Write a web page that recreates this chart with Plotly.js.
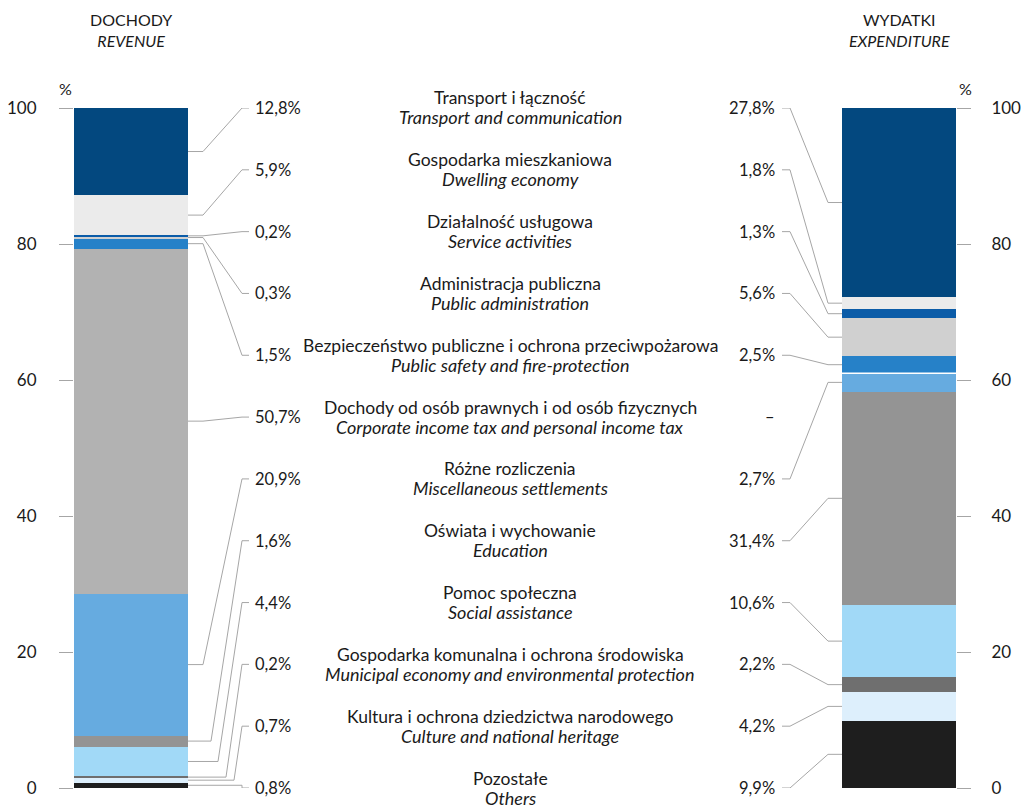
<!DOCTYPE html>
<html>
<head>
<meta charset="utf-8">
<script src="https://cdn.plot.ly/plotly-3.0.1.min.js"></script>
<style>html,body{margin:0;padding:0;background:#fff;}#chart{width:1025px;height:806px;}</style>
</head>
<body>
<div id="chart"></div>
<script>
// ---- DATA ----
const categoriesPl = [
  'Transport i łączność',
  'Gospodarka mieszkaniowa',
  'Działalność usługowa',
  'Administracja publiczna',
  'Bezpieczeństwo publiczne i ochrona przeciwpożarowa',
  'Dochody od osób prawnych i od osób fizycznych',
  'Różne rozliczenia',
  'Oświata i wychowanie',
  'Pomoc społeczna',
  'Gospodarka komunalna i ochrona środowiska',
  'Kultura i ochrona dziedzictwa narodowego',
  'Pozostałe'
];
const categoriesEn = [
  'Transport and communication',
  'Dwelling economy',
  'Service activities',
  'Public administration',
  'Public safety and fire-protection',
  'Corporate income tax and personal income tax',
  'Miscellaneous settlements',
  'Education',
  'Social assistance',
  'Municipal economy and environmental protection',
  'Culture and national heritage',
  'Others'
];
const revenue     = [12.8, 5.9, 0.2, 0.3, 1.5, 50.7, 20.9, 1.6, 4.4, 0.2, 0.7, 0.8];
const expenditure = [27.8, 1.8, 1.3, 5.6, 2.5, 0.0, 2.7, 31.4, 10.6, 2.2, 4.2, 9.9];
const yTicks = [0, 20, 40, 60, 80, 100];

// ---- STYLE ----
const colors = ['#03487F','#EBEBEB','#0B5CA8','#D0D0D0','#2681C8','#B2B2B2',
                '#66ABE0','#949494','#A1D9F7','#6F6F6F','#DDEFFC','#1E1E1E'];
const W = 1025, H = 806;
const FONT = 'Lato, "Open Sans", sans-serif';
const TXT = '#1a1a1a';
const LINE = '#A6A6A6';
const px = v => v / W;
const leftBar = [74, 188], rightBar = [842, 956];
const plotTop = 108, plotBottom = 788;
const leftElbow = [203,203,203,203,203,203,203,211,218,226,234,242];
const midX = 510;

const fmt = v => v === 0 ? '–' : v.toFixed(1).replace('.', ',') + '%';

const n = categoriesPl.length;
const traces = [];
for (let i = n - 1; i >= 0; i--) {
  traces.push({type:'bar', x:[0], y:[revenue[i]], width:[1], xaxis:'x', yaxis:'y',
    marker:{color:colors[i], line:{width:0}}, hoverinfo:'skip', showlegend:false});
  traces.push({type:'bar', x:[0], y:[expenditure[i]], width:[1], xaxis:'x2', yaxis:'y2',
    marker:{color:colors[i], line:{width:0}}, hoverinfo:'skip', showlegend:false});
}

function bases(vals) {
  const b = new Array(vals.length); let acc = 0;
  for (let i = vals.length - 1; i >= 0; i--) { b[i] = acc; acc += vals[i]; }
  return b;
}
const revBase = bases(revenue), expBase = bases(expenditure);
const labelY = categoriesPl.map((_, k) => 100 - k * 100 / (n - 1));

const shapes = [], annotations = [];
for (let i = 0; i < n; i++) {
  const ly = labelY[i];
  // middle category label (two lines)
  annotations.push({xref:'paper', yref:'y', x:px(midX), y:ly, xanchor:'center', yanchor:'middle',
    yshift:10, text: categoriesPl[i], showarrow:false,
    font:{family:FONT, size:17.5, color:TXT}});
  annotations.push({xref:'paper', yref:'y', x:px(midX), y:ly, xanchor:'center', yanchor:'middle',
    yshift:-9.5, text: '<i>' + categoriesEn[i] + '</i>', showarrow:false,
    font:{family:FONT, size:18, color:TXT}});
  // left percentage
  annotations.push({xref:'paper', yref:'y', x:px(253), y:ly, xanchor:'left', yanchor:'middle',
    text: fmt(revenue[i]), showarrow:false, font:{family:FONT, size:16.5, color:TXT}});
  // right percentage
  annotations.push({xref:'paper', yref:'y2', x:px(777), y:ly, xanchor:'right', yanchor:'middle',
    text: fmt(expenditure[i]), showarrow:false, font:{family:FONT, size:16.5, color:TXT}});
  // left leader
  const rm = revBase[i] + revenue[i] / 2;
  shapes.push({type:'path', xref:'paper', yref:'y', line:{color:LINE, width:1},
    path:`M${px(leftBar[1])},${rm} L${px(leftElbow[i])},${rm} L${px(242)},${ly} L${px(249)},${ly}`});
  // right leader
  if (expenditure[i] > 0) {
    const em = expBase[i] + expenditure[i] / 2;
    shapes.push({type:'path', xref:'paper', yref:'y2', line:{color:LINE, width:1},
      path:`M${px(782)},${ly} L${px(790)},${ly} L${px(828)},${em} L${px(rightBar[0])},${em}`});
  } else {
    // zero-size segment shown as a thin white separator
    shapes.push({type:'line', xref:'x2', yref:'y2', x0:-0.5, x1:0.5, y0:expBase[i], y1:expBase[i],
      line:{color:'#ffffff', width:1.5}});
  }
}

// titles
annotations.push({xref:'paper', yref:'paper', x:px(131), y:1 - 30/H, xanchor:'center', yanchor:'middle',
  text:'DOCHODY<br><i>REVENUE</i>', showarrow:false, font:{family:FONT, size:16, color:TXT}});
annotations.push({xref:'paper', yref:'paper', x:px(899), y:1 - 30/H, xanchor:'center', yanchor:'middle',
  text:'WYDATKI<br><i>EXPENDITURE</i>', showarrow:false, font:{family:FONT, size:16, color:TXT}});
annotations.push({xref:'paper', yref:'paper', x:px(65), y:1 - 89/H, xanchor:'center', yanchor:'middle',
  text:'%', showarrow:false, font:{family:FONT, size:16, color:TXT}});
annotations.push({xref:'paper', yref:'paper', x:px(965), y:1 - 89/H, xanchor:'center', yanchor:'middle',
  text:'%', showarrow:false, font:{family:FONT, size:16, color:TXT}});

const yDomain = [1 - plotBottom / H, 1 - plotTop / H];
const yCommon = {range:[0,100], domain:yDomain, tickvals:yTicks, ticks:'outside', ticklen:14,
  tickcolor:LINE, tickwidth:1, showgrid:true, gridcolor:LINE, gridwidth:1, zeroline:false,
  showline:false, fixedrange:true,
  tickfont:{family:FONT, size:17, color:TXT}};

const layout = {
  width:W, height:H, margin:{l:0, r:0, t:0, b:0},
  paper_bgcolor:'#fff', plot_bgcolor:'rgba(0,0,0,0)',
  barmode:'stack', bargap:0, showlegend:false,
  xaxis:{domain:[px(leftBar[0]), px(leftBar[1])], range:[-0.5,0.5], visible:false, anchor:'y', fixedrange:true},
  xaxis2:{domain:[px(rightBar[0]), px(rightBar[1])], range:[-0.5,0.5], visible:false, anchor:'y2', fixedrange:true},
  yaxis:Object.assign({}, yCommon, {anchor:'x', side:'left', ticklabelstandoff:19}),
  yaxis2:Object.assign({}, yCommon, {anchor:'x2', side:'right', ticklabelstandoff:17}),
  shapes:shapes, annotations:annotations
};

Plotly.newPlot('chart', traces, layout, {displayModeBar:false, staticPlot:true});
</script>
</body>
</html>
